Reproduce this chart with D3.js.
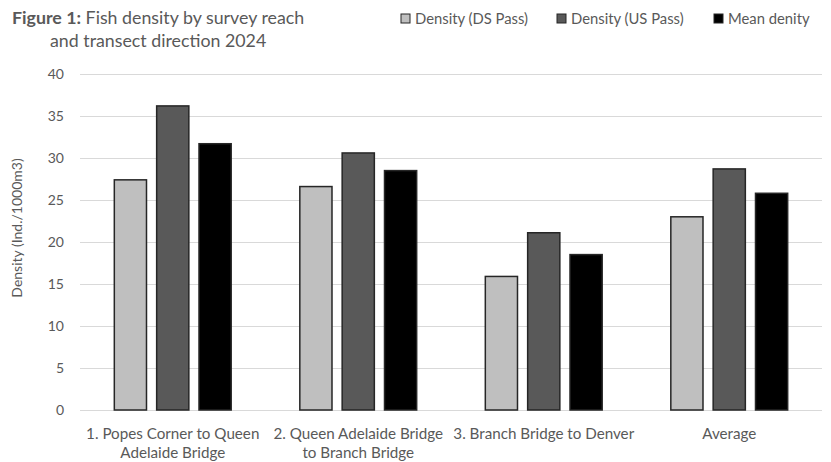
<!DOCTYPE html>
<html>
<head>
<meta charset="utf-8">
<script src="https://cdn.jsdelivr.net/npm/d3@7"></script>
<style>
  html, body { margin: 0; padding: 0; background: #fff; }
  svg { display: block; font-family: Lato, "Open Sans", sans-serif; }
</style>
</head>
<body>
<svg id="chart" width="831" height="462"></svg>
<script>
// Survey reaches (two-line labels) and densities per series
const categories = [
  ["1. Popes Corner to Queen", "Adelaide Bridge"],
  ["2. Queen Adelaide Bridge", "to Branch Bridge"],
  ["3. Branch Bridge to Denver"],
  ["Average"]
];
const seriesNames = ["Density (DS Pass)", "Density (US Pass)", "Mean denity"];
const dsPass = [27.4, 26.6, 15.9, 23.0];
const usPass = [36.2, 30.6, 21.1, 28.7];
const meanDensity = [31.7, 28.5, 18.5, 25.8];
const yTicks = [0, 5, 10, 15, 20, 25, 30, 35, 40];

const colors = ["#bfbfbf", "#595959", "#000000"];
const seriesValues = [dsPass, usPass, meanDensity];

const svg = d3.select("#chart");
const margin = { left: 80, right: 9, top: 74, bottom: 52 };
const W = 831, H = 462;

const x0 = d3.scaleBand()
  .domain(d3.range(categories.length))
  .range([margin.left, W - margin.right])
  .paddingInner(0.37)
  .paddingOuter(0.185);

const x1 = d3.scaleBand()
  .domain(d3.range(seriesNames.length))
  .range([0, x0.bandwidth()])
  .paddingInner(0.24);

const y = d3.scaleLinear().domain([0, 40]).range([H - margin.bottom, margin.top]);

// Gridlines
svg.append("g")
  .selectAll("line")
  .data(yTicks)
  .join("line")
  .attr("x1", margin.left)
  .attr("x2", W - margin.right)
  .attr("y1", d => Math.round(y(d)) + 0.5)
  .attr("y2", d => Math.round(y(d)) + 0.5)
  .attr("stroke", "#d9d9d9")
  .attr("stroke-width", 1);

// Y axis tick labels
const yAxis = d3.axisLeft(y).tickValues(yTicks).tickSize(0).tickPadding(0);
const yg = svg.append("g")
  .attr("transform", `translate(${margin.left - 16},0)`)
  .call(yAxis);
yg.select(".domain").remove();
yg.selectAll("text")
  .attr("fill", "#595959")
  .style("font-size", "14px")
  .style("font-family", "Lato, 'Open Sans', sans-serif");

// Y axis title
svg.append("text")
  .attr("transform", `translate(22,${(y(0) + y(40)) / 2 - 14}) rotate(-90)`)
  .attr("text-anchor", "middle")
  .attr("fill", "#595959")
  .style("font-size", "14px")
  .text("Density (Ind./1000m3)");

// Bars
const groups = svg.append("g")
  .selectAll("g")
  .data(categories.map((c, i) => i))
  .join("g")
  .attr("transform", i => `translate(${x0(i)},0)`);

groups.selectAll("rect")
  .data(i => seriesValues.map((vals, s) => ({ s, v: vals[i] })))
  .join("rect")
  .attr("x", d => x1(d.s))
  .attr("y", d => y(d.v))
  .attr("width", x1.bandwidth())
  .attr("height", d => y(0) - y(d.v))
  .attr("fill", d => colors[d.s])
  .attr("stroke", "#262626")
  .attr("stroke-width", 1.5);

// Category labels
const xl = svg.append("g");
categories.forEach((lines, i) => {
  const cx = x0(i) + x0.bandwidth() / 2;
  const t = xl.append("text")
    .attr("x", cx)
    .attr("y", 439)
    .attr("text-anchor", "middle")
    .attr("fill", "#595959")
    .style("font-size", "15.2px");
  lines.forEach((ln, k) => {
    t.append("tspan").attr("x", cx).attr("dy", k === 0 ? 0 : 19).text(ln);
  });
});

// Title
const title = svg.append("text")
  .attr("fill", "#595959")
  .style("font-size", "17.8px");
title.append("tspan").attr("x", 12).attr("y", 24)
  .style("font-weight", "bold").text("Figure 1:");
title.append("tspan").text(" Fish density by survey reach");
title.append("tspan").attr("x", 50).attr("y", 47).text("and transect direction 2024");

// Legend
const legendX = [401, 557, 714];
const legend = svg.append("g");
seriesNames.forEach((name, s) => {
  legend.append("rect")
    .attr("x", legendX[s]).attr("y", 14)
    .attr("width", 9).attr("height", 9)
    .attr("fill", colors[s])
    .attr("stroke", "#262626").attr("stroke-width", 1);
  legend.append("text")
    .attr("x", legendX[s] + 14).attr("y", 23.5)
    .attr("fill", "#595959")
    .style("font-size", "14.8px")
    .text(name);
});
</script>
</body>
</html>
